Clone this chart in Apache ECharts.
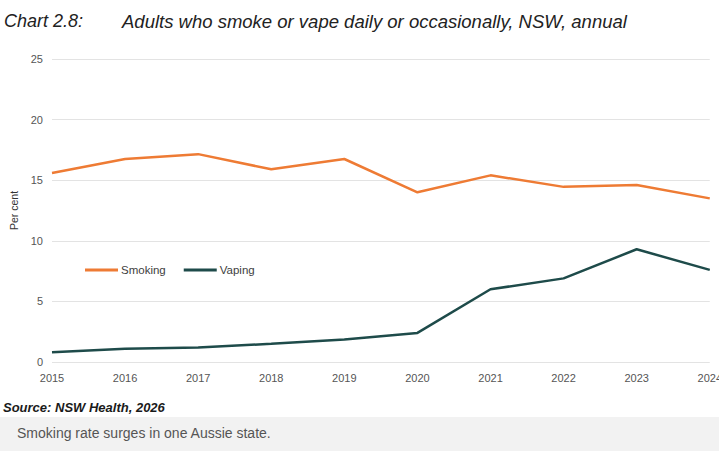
<!DOCTYPE html>
<html>
<head>
<meta charset="utf-8">
<script src="https://cdn.jsdelivr.net/npm/echarts@6/dist/echarts.min.js"></script>
<style>
html,body{margin:0;padding:0;background:#fff;}
#chart{width:725px;height:463px;}
</style>
</head>
<body>
<div id="chart"></div>
<script>
const years = ['2015','2016','2017','2018','2019','2020','2021','2022','2023','2024'];
const smoking = [15.6, 16.75, 17.15, 15.9, 16.75, 14.0, 15.4, 14.45, 14.6, 13.5];
const vaping = [0.8, 1.1, 1.2, 1.5, 1.85, 2.4, 6.0, 6.9, 9.3, 7.6];
const yTicks = [0, 5, 10, 15, 20, 25];

const chart = echarts.init(document.getElementById('chart'), null, {renderer: 'svg'});
chart.setOption({
  animation: false,
  backgroundColor: '#fff',
  title: [
    {text: 'Chart 2.8:', left: 4, top: 12, padding: 0,
     textStyle: {fontFamily: 'Liberation Sans', fontStyle: 'italic', fontWeight: 'normal', fontSize: 18, color: '#222'}},
    {text: 'Adults who smoke or vape daily or occasionally, NSW, annual', left: 122, top: 12, padding: 0,
     textStyle: {fontFamily: 'Liberation Sans', fontStyle: 'italic', fontWeight: 'normal', fontSize: 18.5, color: '#222'}},
    {text: 'Source: NSW Health, 2026', left: 3, top: 401, padding: 0,
     textStyle: {fontFamily: 'Liberation Sans', fontStyle: 'italic', fontWeight: 'bold', fontSize: 13, color: '#1a1a1a'}},
    {text: 'Smoking rate surges in one Aussie state.', left: 17, top: 426, padding: 0,
     textStyle: {fontFamily: 'Liberation Sans', fontWeight: 'normal', fontSize: 14, color: '#555'}}
  ],
  graphic: [
    {type: 'rect', left: 0, top: 417, z: -10, silent: true,
     shape: {width: 719, height: 34}, style: {fill: '#f2f2f2'}},
    {type: 'rect', left: 719, top: 0, z: 100, silent: true,
     shape: {width: 6, height: 463}, style: {fill: '#fff'}}
  ],
  legend: {
    left: 85, top: 264, padding: 0, itemWidth: 33, itemHeight: 3, itemGap: 18,
    icon: 'rect',
    textStyle: {fontFamily: 'Liberation Sans', fontSize: 11.5, color: '#404040', padding: [0, 0, 0, -2]},
    data: ['Smoking', 'Vaping']
  },
  grid: {left: 52, right: 13, top: 59, bottom: 101, containLabel: false},
  xAxis: {
    type: 'category', data: years, boundaryGap: false,
    axisLine: {show: false}, axisTick: {show: false},
    axisLabel: {fontFamily: 'Liberation Sans', fontSize: 11, color: '#555', margin: 10}
  },
  yAxis: {
    type: 'value', min: yTicks[0], max: yTicks[yTicks.length - 1], interval: 5,
    name: 'Per cent', nameLocation: 'middle', nameGap: 27, nameRotate: 90,
    nameTextStyle: {fontFamily: 'Liberation Sans', fontSize: 10.5, color: '#333'},
    axisLine: {show: false}, axisTick: {show: false},
    axisLabel: {fontFamily: 'Liberation Sans', fontSize: 11, color: '#555', margin: 9},
    splitLine: {lineStyle: {color: '#e3e3e3', width: 1}}
  },
  series: [
    {name: 'Smoking', type: 'line', data: smoking, symbol: 'none',
     lineStyle: {color: '#EE7B34', width: 2.5}, itemStyle: {color: '#EE7B34'}},
    {name: 'Vaping', type: 'line', data: vaping, symbol: 'none',
     lineStyle: {color: '#1E4B4A', width: 2.5}, itemStyle: {color: '#1E4B4A'}}
  ]
});
</script>
</body>
</html>
